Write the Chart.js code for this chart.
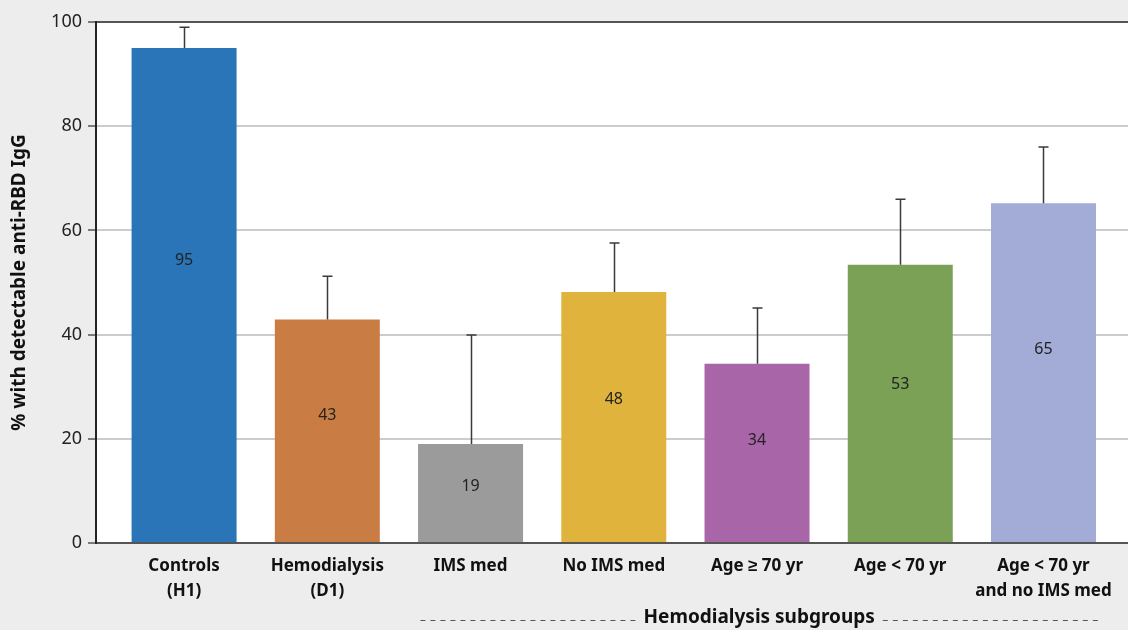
<!DOCTYPE html>
<html>
<head>
<meta charset="utf-8">
<script src="https://cdn.jsdelivr.net/npm/chart.js@4.4.1/dist/chart.umd.min.js"></script>
<style>
  html, body { margin: 0; padding: 0; background: #ededed; }
  #wrap { width: 1128px; height: 630px; }
</style>
</head>
<body>
<div id="wrap"><canvas id="grafica" width="1128" height="630"></canvas></div>
<script>
const categorias = [
  ["Controls", "(H1)"],
  ["Hemodialysis", "(D1)"],
  "IMS med",
  "No IMS med",
  "Age \u2265 70 yr",
  "Age < 70 yr",
  ["Age < 70 yr", "and no IMS med"]
];
const porcentajes = [95, 42.9, 19, 48.2, 34.4, 53.4, 65.2];
const erroresSup = [99, 51.2, 39.9, 57.6, 45.1, 66.0, 76.0];
const colores = ["#2a74b8", "#c97d44", "#9b9b9b", "#e0b43c", "#a866a8", "#7ba156", "#a2acd6"];
const ticksY = [0, 20, 40, 60, 80, 100];

const fuente = "'Noto Sans', sans-serif";

// error bars + value labels + subgroup bracket
const extras = {
  id: "extras",
  afterDatasetsDraw(chart) {
    const ctx = chart.ctx;
    const x = chart.scales.x, y = chart.scales.y;
    ctx.save();
    ctx.strokeStyle = "#3a3a3a";
    ctx.lineWidth = 1.5;
    porcentajes.forEach((v, i) => {
      const px = Math.round(x.getPixelForValue(i)) + 0.5;
      const y0 = y.getPixelForValue(v);
      const y1 = y.getPixelForValue(erroresSup[i]);
      ctx.beginPath();
      ctx.moveTo(px, y0);
      ctx.lineTo(px, y1);
      ctx.moveTo(px - 5, y1);
      ctx.lineTo(px + 5, y1);
      ctx.stroke();
    });
    ctx.fillStyle = "#222";
    ctx.font = "16px " + fuente;
    ctx.textAlign = "center";
    ctx.textBaseline = "middle";
    porcentajes.forEach((v, i) => {
      ctx.fillText(String(Math.round(v)), x.getPixelForValue(i), y.getPixelForValue(v * 0.57));
    });

    // subgroup bracket
    const xa = x.getPixelForValue(1.65), xb = x.getPixelForValue(6.38);
    const xc = (xa + xb) / 2;
    const yl = 618;
    ctx.font = "bold 19px " + fuente;
    const w = ctx.measureText("Hemodialysis subgroups").width;
    ctx.fillStyle = "#111";
    ctx.fillText("Hemodialysis subgroups", xc, yl);
    ctx.strokeStyle = "#555";
    ctx.lineWidth = 1;
    ctx.setLineDash([5, 5]);
    ctx.beginPath();
    ctx.moveTo(xa, yl + 2.5);
    ctx.lineTo(xc - w / 2 - 8, yl + 2.5);
    ctx.moveTo(xc + w / 2 + 8, yl + 2.5);
    ctx.lineTo(xb, yl + 2.5);
    ctx.stroke();
    ctx.restore();
  }
};

const fondo = {
  id: "fondo",
  beforeDraw(chart) {
    const { ctx, chartArea: a } = chart;
    ctx.save();
    ctx.fillStyle = "#ffffff";
    ctx.fillRect(a.left, a.top, a.right - a.left, a.bottom - a.top);
    ctx.restore();
  }
};

new Chart(document.getElementById("grafica"), {
  type: "bar",
  data: {
    datasets: [{
      data: porcentajes.map((v, i) => ({ x: i, y: v })),
      backgroundColor: colores,
      borderWidth: 0,
      categoryPercentage: 0.733,
      barPercentage: 1
    }]
  },
  options: {
    responsive: false,
    animation: false,
    layout: { padding: { top: 22, left: 0, right: 0, bottom: 0 } },
    plugins: { legend: { display: false }, tooltip: { enabled: false } },
    scales: {
      x: {
        type: "linear",
        offset: false,
        min: -0.615,
        max: 6.59,
        afterBuildTicks: s => { s.ticks = categorias.map((_, i) => ({ value: i })); },
        afterFit: s => { s.height = 87; },
        ticks: {
          autoSkip: false,
          maxRotation: 0,
          padding: 11,
          color: "#111",
          font: { family: fuente, size: 17, weight: "bold", lineHeight: 1.45 },
          callback: (v) => categorias[v]
        },
        grid: { drawOnChartArea: false, drawTicks: false, color: "rgba(0,0,0,0)" },
        border: { display: true, color: "#555", width: 2 }
      },
      y: {
        min: 0,
        max: 100,
        afterBuildTicks: s => { s.ticks = ticksY.map(v => ({ value: v })); },
        afterFit: s => { s.width = 96; },
        ticks: {
          color: "#222",
          padding: 6,
          font: { family: fuente, size: 18 }
        },
        grid: {
          color: c => c.tick && c.tick.value === 100 ? "#555" : (c.tick && c.tick.value === 0 ? "rgba(0,0,0,0)" : "#cccccc"),
          lineWidth: 2,
          tickLength: 8,
          tickColor: "#555",
          tickWidth: 1.5
        },
        border: { display: true, color: "#222", width: 2 },
        title: {
          display: true,
          text: "% with detectable anti-RBD IgG",
          color: "#111",
          padding: { top: 8, bottom: 8 },
          font: { family: fuente, size: 19, weight: "bold" }
        }
      }
    }
  },
  plugins: [fondo, extras]
});
</script>
</body>
</html>
